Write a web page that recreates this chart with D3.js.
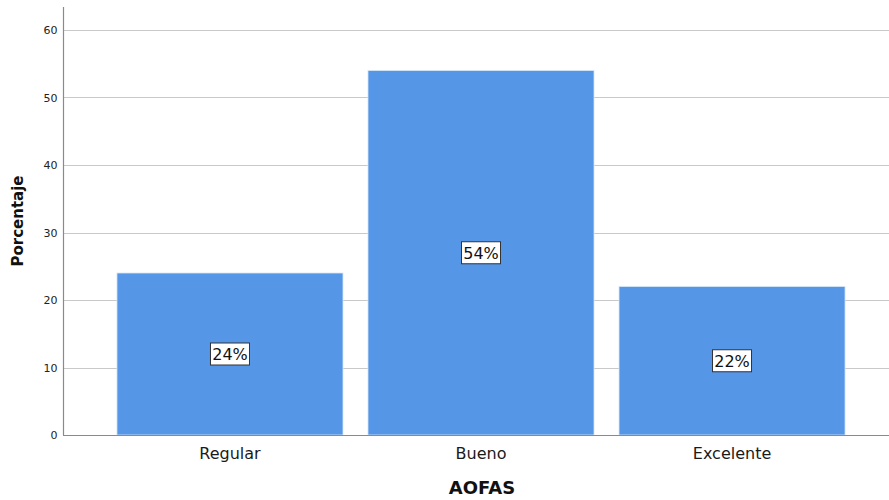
<!DOCTYPE html>
<html>
<head>
<meta charset="utf-8">
<script src="https://cdn.jsdelivr.net/npm/d3@7"></script>
<style>
  html, body { margin: 0; padding: 0; background: #fff; }
  svg { display: block; }
</style>
</head>
<body>
<div id="chart"></div>
<script>
// AOFAS score distribution (percentage of patients)
const categories = ["Regular", "Bueno", "Excelente"];
const values = [24, 54, 22];
const yTicks = [0, 10, 20, 30, 40, 50, 60];
const xTitle = "AOFAS";
const yTitle = "Porcentaje";

const W = 889, H = 500;
const plotLeft = 63, plotRight = 899, plotTop = 7, plotBottom = 435;

const svg = d3.select("#chart").append("svg")
  .attr("width", W).attr("height", H);

const x = d3.scaleBand()
  .domain(categories)
  .range([plotLeft, plotRight])
  .paddingInner(25 / 251)
  .paddingOuter(0.215);

const y = d3.scaleLinear()
  .domain([0, 60])
  .range([plotBottom, 30]);

// horizontal grid lines
svg.append("g")
  .selectAll("line")
  .data(yTicks.filter(d => d > 0))
  .join("line")
  .attr("x1", plotLeft).attr("x2", W)
  .attr("y1", d => Math.round(y(d)) + 0.5)
  .attr("y2", d => Math.round(y(d)) + 0.5)
  .attr("stroke", "#c9c9c9")
  .attr("stroke-width", 1);

// bars
svg.append("g")
  .selectAll("rect")
  .data(values)
  .join("rect")
  .attr("x", (d, i) => x(categories[i]))
  .attr("y", d => y(d))
  .attr("width", x.bandwidth())
  .attr("height", d => y(0) - y(d))
  .attr("fill", "#5596e6")
  .attr("stroke", "#d6e6f8")
  .attr("stroke-width", 0.8);

// y axis
const yAxis = svg.append("g")
  .attr("transform", `translate(${plotLeft + 0.5},0)`)
  .call(d3.axisLeft(y).tickValues(yTicks).tickSize(0).tickPadding(6).tickFormat(d3.format("d")));
yAxis.select(".domain").remove();
yAxis.selectAll("text")
  .attr("font-family", "'DejaVu Sans', sans-serif")
  .attr("font-size", 11)
  .attr("fill", "#222");
svg.append("line")
  .attr("x1", plotLeft + 0.5).attr("x2", plotLeft + 0.5)
  .attr("y1", plotTop).attr("y2", plotBottom)
  .attr("stroke", "#8a8a8a").attr("stroke-width", 1.2);

// x axis
const xAxis = svg.append("g")
  .attr("transform", `translate(0,${plotBottom + 0.5})`)
  .call(d3.axisBottom(x).tickSize(0).tickPadding(12));
xAxis.select(".domain").remove();
xAxis.selectAll("text")
  .attr("font-family", "'DejaVu Sans', sans-serif")
  .attr("font-size", 16)
  .attr("fill", "#1a1a1a");
svg.append("line")
  .attr("x1", plotLeft).attr("x2", W)
  .attr("y1", plotBottom + 0.5).attr("y2", plotBottom + 0.5)
  .attr("stroke", "#8a8a8a").attr("stroke-width", 1.2);

// value labels at bar mid-height
const labels = svg.append("g")
  .selectAll("g")
  .data(values)
  .join("g")
  .attr("transform", (d, i) => `translate(${x(categories[i]) + x.bandwidth() / 2},${y(d / 2)})`);
labels.append("rect")
  .attr("x", -19.5).attr("y", -11)
  .attr("width", 39).attr("height", 22)
  .attr("fill", "#fff")
  .attr("stroke", "#333")
  .attr("stroke-width", 1);
labels.append("text")
  .attr("text-anchor", "middle")
  .attr("dy", "0.37em")
  .attr("font-family", "'DejaVu Sans', sans-serif")
  .attr("font-size", 16)
  .attr("fill", "#111")
  .text(d => d + "%");

// axis titles
svg.append("text")
  .attr("x", (plotLeft + W) / 2 + 6)
  .attr("y", 494)
  .attr("text-anchor", "middle")
  .attr("font-family", "'DejaVu Sans', sans-serif")
  .attr("font-weight", "bold")
  .attr("font-size", 18)
  .attr("fill", "#111")
  .text(xTitle);

svg.append("text")
  .attr("transform", `translate(23,${(plotTop + plotBottom) / 2}) rotate(-90)`)
  .attr("text-anchor", "middle")
  .attr("font-family", "'DejaVu Sans', sans-serif")
  .attr("font-weight", "bold")
  .attr("font-size", 15)
  .attr("fill", "#111")
  .text(yTitle);
</script>
</body>
</html>
